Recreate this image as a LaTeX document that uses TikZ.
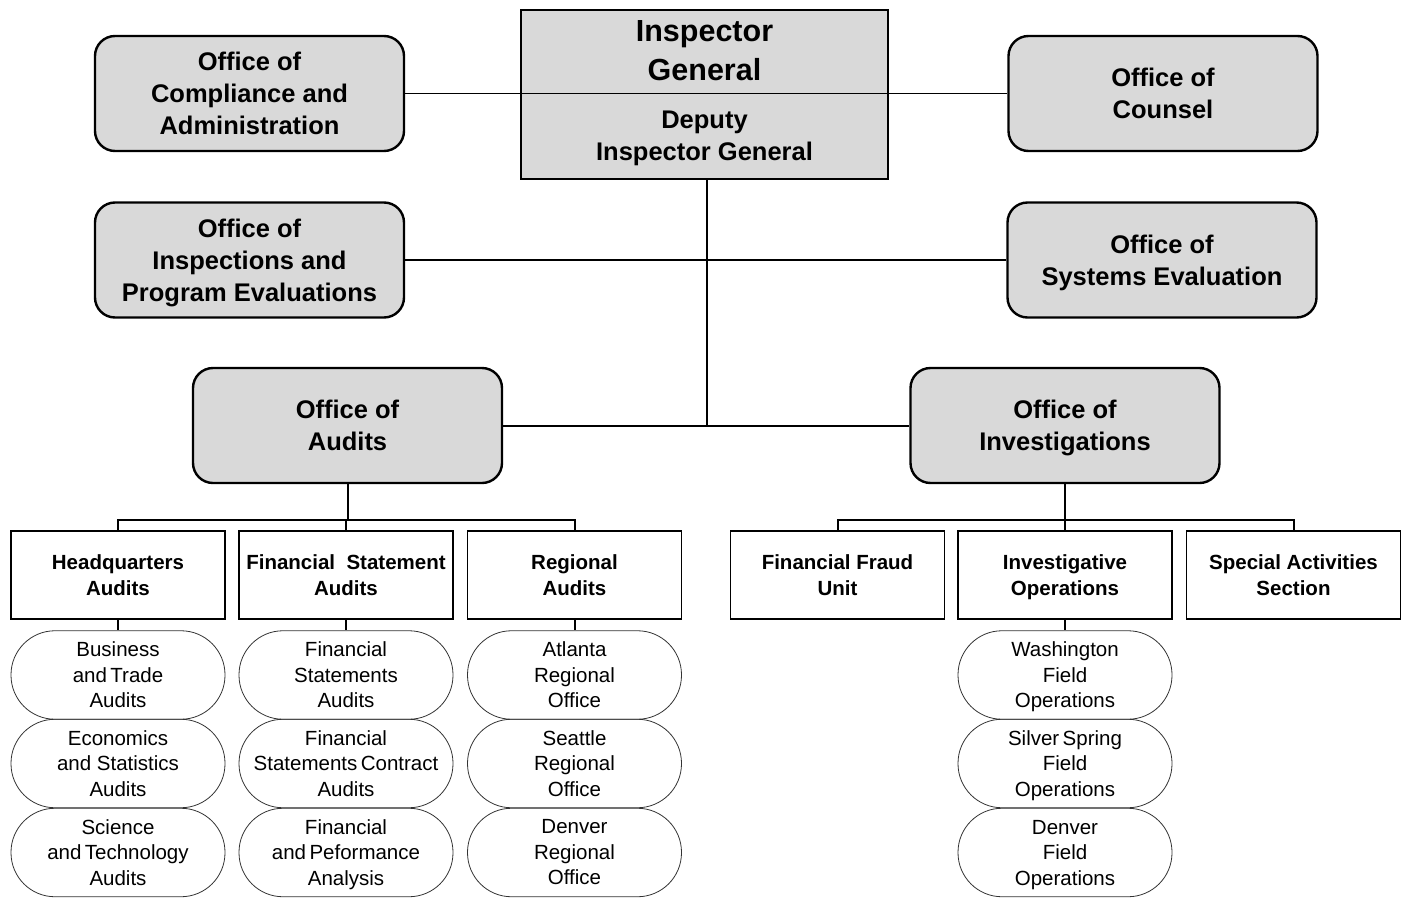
\documentclass[tikz,border=0pt]{standalone}
\usepackage{fontspec}
\setmainfont{Liberation Sans}
\definecolor{boxgray}{RGB}{217,217,217}
\newcommand\nodp[1]{\raisebox{0pt}[\height][0pt]{#1}}
\tikzset{
  office/.style={draw=black, fill=boxgray, line width=2.4pt, rounded corners=20pt,
    minimum width=309pt, minimum height=115pt, align=center, inner sep=0pt,
    font=\fontsize{25.5}{32}\selectfont\bfseries},
  unit/.style={draw=black, line width=1.4pt, minimum width=214pt, minimum height=88pt,
    align=center, inner sep=0pt, font=\fontsize{20.5}{26}\selectfont\bfseries},
  pill/.style={draw=black!80, line width=0.8pt, rounded corners=44pt, minimum width=214pt,
    minimum height=88.5pt, align=center, inner sep=0pt, font=\fontsize{20.5}{25.5}\selectfont},
  conn/.style={line width=2pt},
  igtext/.style={align=center, inner sep=0pt}
}
\begin{document}
\begin{tikzpicture}[x=1pt,y=-1pt]
\useasboundingbox (0,0) rectangle (1408,897);
% Inspector General block
\node[draw=black, fill=boxgray, line width=2.6pt, minimum width=367pt, minimum height=169pt, inner sep=0pt] (ig) at (704.5,94.5) {};
\node[igtext, font=\fontsize{30.5}{39}\selectfont\bfseries] (igt) at (704.5,51) {Inspector\\General};
\node[igtext, font=\fontsize{25.5}{32}\selectfont\bfseries] (dig) at (704.5,136) {Deputy\\\nodp{Inspector General}};
% Staff offices
\node[office] (comp) at (249.5,93.5) {Office of\\Compliance and\\Administration};
\node[office] (couns) at (1163,93.5) {Office of\\Counsel};
\node[office] (insp) at (249.5,260) {Office of\\Inspections and\\\nodp{Program Evaluations}};
\node[office] (sys) at (1162,260) {Office of\\\nodp{Systems Evaluation}};
\node[office] (aud) at (347.5,425.5) {Office of\\Audits};
\node[office] (inv) at (1065,425.5) {Office of\\\nodp{Investigations}};
% Units
\node[unit] (hq) at (118,575) {Headquarters\\Audits};
\node[unit] (fs) at (346,575) {Financial\ \ Statement\\Audits};
\node[unit] (reg) at (574.5,575) {Regional\\Audits};
\node[unit] (ffu) at (837.5,575) {Financial Fraud\\Unit};
\node[unit] (io) at (1065,575) {Investigative\\\nodp{Operations}};
\node[unit] (sas) at (1293.5,575) {Special Activities\\Section};
% Pills
\node[pill] (p11) at (118,675) {Business\\and\,Trade\\Audits};
\node[pill] (p12) at (118,763.5) {Economics\\and Statistics\\Audits};
\node[pill] (p13) at (118,852.5) {Science\\and\,Technology\\Audits};
\node[pill] (p21) at (346,675) {Financial\\Statements\\Audits};
\node[pill] (p22) at (346,763.5) {Financial\\Statements\,Contract\\Audits};
\node[pill] (p23) at (346,852.5) {Financial\\and\,Peformance\\\nodp{Analysis}};
\node[pill] (p31) at (574.5,675) {Atlanta\\Regional\\Office};
\node[pill] (p32) at (574.5,763.5) {Seattle\\Regional\\Office};
\node[pill] (p33) at (574.5,852.5) {Denver\\Regional\\Office};
\node[pill] (p41) at (1065,675) {Washington\\Field\\\nodp{Operations}};
\node[pill] (p42) at (1065,763.5) {Silver\,Spring\\Field\\\nodp{Operations}};
\node[pill] (p43) at (1065,852.5) {Denver\\Field\\\nodp{Operations}};
% Connectors
\coordinate (j1) at (707,425);
\draw[line width=1.6pt] (comp.east) -- (couns.west);
\draw[conn] (ig.south -| j1) -- (j1);
\draw[conn] (insp.east) -- (sys.west);
\draw[conn] (aud.east) -- (inv.west);
\coordinate (abus) at (347.5,520);
\coordinate (ibus) at (1065,520);
\draw[conn] (aud.south) -- (abus);
\draw[conn] (hq.north) |- (abus) -| (reg.north);
\draw[conn] (fs.north) -- (fs.north |- abus);
\draw[conn] (inv.south) -- (ibus);
\draw[conn] (ffu.north) |- (ibus) -| (sas.north);
\draw[conn] (io.north) -- (io.north |- ibus);
\draw[conn] (hq.south) -- (p11.north);
\draw[conn] (fs.south) -- (p21.north);
\draw[conn] (reg.south) -- (p31.north);
\draw[conn] (io.south) -- (p41.north);
\end{tikzpicture}
\end{document}
